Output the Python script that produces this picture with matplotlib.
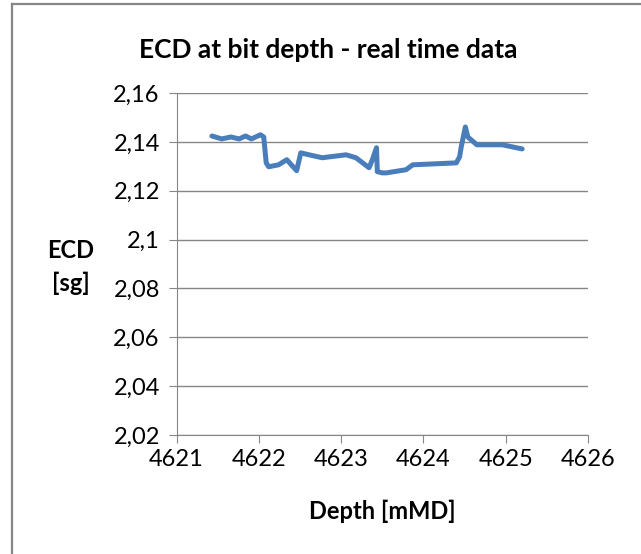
import matplotlib
matplotlib.use("Agg")
import matplotlib.pyplot as plt
from matplotlib.lines import Line2D

# depth [mMD] and ECD [sg]
depth = [4621.43, 4621.55, 4621.66, 4621.76, 4621.84, 4621.91, 4622.02, 4622.06,
         4622.09, 4622.12, 4622.24, 4622.34, 4622.46, 4622.51, 4622.61, 4622.77,
         4623.06, 4623.18, 4623.34, 4623.38, 4623.43, 4623.44, 4623.50, 4623.55,
         4623.79, 4623.87, 4624.40, 4624.44, 4624.46, 4624.51, 4624.54, 4624.65,
         4624.96, 4625.20]
ecd = [2.1424, 2.1412, 2.1420, 2.1412, 2.1424, 2.1412, 2.1429, 2.1420,
       2.1314, 2.1298, 2.1306, 2.1327, 2.1282, 2.1355, 2.1347, 2.1335,
       2.1347, 2.1335, 2.1294, 2.1327, 2.1376, 2.1278, 2.1273, 2.1273,
       2.1286, 2.1306, 2.1314, 2.1339, 2.1380, 2.1461, 2.1420, 2.1388,
       2.1388, 2.1371]

yticks = [2.02, 2.04, 2.06, 2.08, 2.1, 2.12, 2.14, 2.16]
ytick_labels = ["2,02", "2,04", "2,06", "2,08", "2,1", "2,12", "2,14", "2,16"]
xticks = [4621, 4622, 4623, 4624, 4625, 4626]

plt.rcParams["font.family"] = ["Lato", "DejaVu Sans"]
grey = "#868686"
W, H = 641, 554

fig = plt.figure(figsize=(W / 100, H / 100), dpi=100)
# chart area border (only top and left edges are visible in the crop)
fig.add_artist(Line2D([11.5 / W, 1], [1 - 4 / H, 1 - 4 / H], color=grey, linewidth=1.6))
fig.add_artist(Line2D([11.5 / W, 11.5 / W], [0, 1 - 4 / H], color=grey, linewidth=1.6))

ax = fig.add_axes([176.5 / W, 1 - 435 / H, 411.5 / W, 342 / H])

ax.plot(depth, ecd, color="#4A7EBB", linewidth=3.6, solid_joinstyle="round", solid_capstyle="round")

ax.set_xlim(4621, 4626)
ax.set_ylim(2.02, 2.16)
ax.set_xticks(xticks)
ax.set_xticklabels([str(x) for x in xticks])
ax.set_yticks(yticks)
ax.set_yticklabels(ytick_labels)
ax.grid(axis="y", color=grey, linewidth=1)
ax.set_axisbelow(True)
for s in ["top", "right"]:
    ax.spines[s].set_visible(False)
for s in ["left", "bottom"]:
    ax.spines[s].set_color(grey)
ax.tick_params(axis="x", direction="out", length=6, color=grey, labelsize=17, pad=4)
ax.tick_params(axis="y", direction="out", length=6, color=grey, labelsize=17, pad=6)

fig.text(328 / W, 1 - 50 / H, "ECD at bit depth - real time data", ha="center", va="center",
         fontsize=19, fontweight="bold")
fig.text(382 / W, 1 - 511 / H, "Depth [mMD]", ha="center", va="center",
         fontsize=17, fontweight="bold")
fig.text(71 / W, 1 - 267 / H, "ECD\n[sg]", ha="center", va="center",
         fontsize=17, fontweight="bold", linespacing=1.5)

fig.savefig("out.png", dpi=100)
